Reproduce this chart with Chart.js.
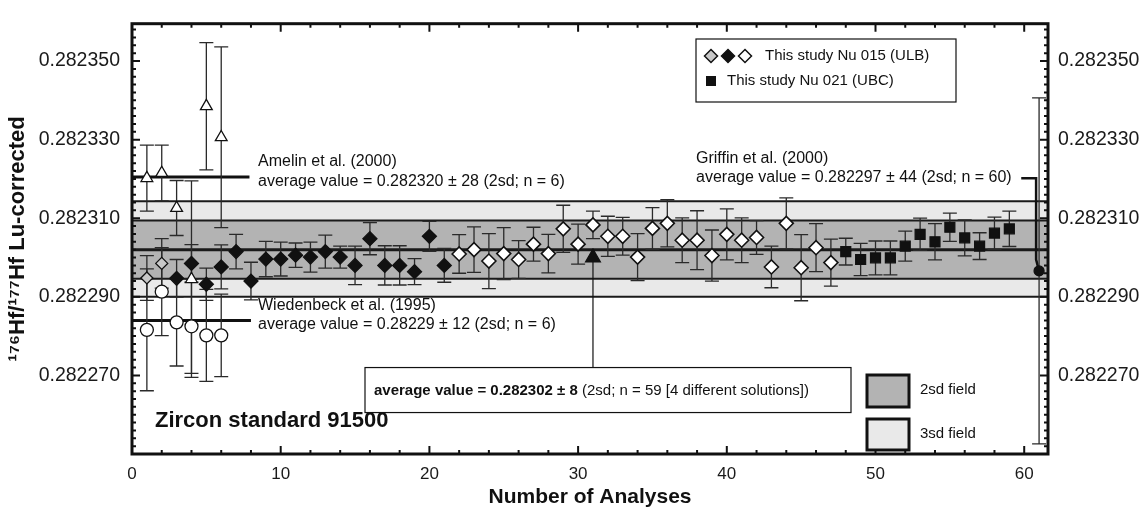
<!DOCTYPE html>
<html>
<head>
<meta charset="utf-8">
<script src="https://cdn.jsdelivr.net/npm/chart.js@4.4.1/dist/chart.umd.min.js"></script>
<style>
  html, body { margin: 0; padding: 0; background: #fff; }
</style>
</head>
<body>
<canvas id="hfChart" width="1148" height="510"></canvas>
<script>
// ---- data (176Hf/177Hf, errors in units of 1e-6, 2sd) ----
const xTicks = [0, 10, 20, 30, 40, 50, 60];
const yTicks = [0.28227, 0.28229, 0.28231, 0.28233, 0.28235];

// Amelin et al. (2000) - open triangles
const amelinX = [1, 2, 3, 4, 5, 6];
const amelinY = [0.2823202, 0.2823215, 0.2823126, 0.2822945, 0.2823385, 0.2823306];
const amelinErr = [8.4, 7.1, 7.0, 25.0, 16.2, 23.0];

// Wiedenbeck et al. (1995) - open circles
const wiedX = [1, 2, 3, 4, 5, 6];
const wiedY = [0.2822816, 0.2822913, 0.2822835, 0.2822825, 0.2822802, 0.2822802];
const wiedErr = [15.5, 11.2, 11.1, 12.0, 11.7, 10.5];

// This study Nu 015 (ULB) - grey, black and white diamonds
const greyX = [1, 2];
const greyY = [0.2822948, 0.2822985];
const greyErr = [5.7, 6.3];

const blackX = [3, 4, 5, 6, 7, 8, 9, 10, 11, 12, 13, 14, 15, 16, 17, 18, 19, 20, 21];
const blackY = [0.2822947, 0.2822985, 0.2822932, 0.2822976, 0.2823015, 0.2822940, 0.2822996,
  0.2822996, 0.2823006, 0.2823001, 0.2823015, 0.2823001, 0.2822980, 0.2823048, 0.2822980,
  0.2822980, 0.2822964, 0.2823054, 0.2822980];
const blackErr = [4.8, 4.8, 4.1, 5.6, 4.4, 4.8, 4.5, 4.3, 3.1, 3.8, 4.2, 2.8, 4.9, 4.1, 5.0,
  5.0, 3.3, 3.8, 4.3];

const whiteX = [22, 23, 24, 25, 26, 27, 28, 29, 30, 31, 32, 33, 34, 35, 36, 37, 38, 39, 40,
  41, 42, 43, 44, 45, 46, 47];
const whiteY = [0.2823009, 0.2823020, 0.2822991, 0.2823010, 0.2822995, 0.2823034, 0.2823010,
  0.2823073, 0.2823034, 0.2823083, 0.2823054, 0.2823054, 0.2823001, 0.2823074, 0.2823087,
  0.2823044, 0.2823044, 0.2823005, 0.2823059, 0.2823044, 0.2823051, 0.2822976, 0.2823087,
  0.2822974, 0.2823025, 0.2822987];
const whiteErr = [4.9, 5.8, 7.0, 6.6, 4.8, 4.3, 4.9, 6.0, 5.1, 3.5, 5.1, 4.8, 6.0, 5.3, 6.0,
  5.7, 7.5, 6.5, 6.5, 5.7, 4.3, 5.3, 6.5, 8.4, 6.1, 6.0];

// This study Nu 021 (UBC) - black squares
const squareX = [48, 49, 50, 51, 52, 53, 54, 55, 56, 57, 58, 59];
const squareY = [0.2823015, 0.2822995, 0.2822999, 0.2822999, 0.2823029, 0.2823059, 0.2823040,
  0.2823077, 0.2823050, 0.2823029, 0.2823062, 0.2823073];
const squareErr = [3.4, 4.1, 4.3, 4.3, 3.8, 4.1, 4.6, 3.6, 4.6, 3.4, 4.1, 4.5];

// Griffin et al. (2000) average
const griffinX = [61];
const griffinY = [0.2822966];
const griffinErr = [44];

// averages and fields
const meanValue = 0.282302;
const band2sd = [0.2822946, 0.2823094];
const band3sd = [0.2822900, 0.2823143];
const amelinLineX = [0, 7.9];
const amelinValue = 0.2823205;
const wiedLineX = [0, 8.0];
const wiedValue = 0.282284;
const bracketX = [59.8, 60.8, 60.8, 61];
const bracketY = [0.2823202, 0.2823202, 0.2822995, 0.2822966];
const pointerX = [31, 31];
const pointerY = [0.2823, 0.282272];

const yMin = 0.28225, yMax = 0.2823595, xMax = 61.6;
const FONT = '"Liberation Sans", Arial, Helvetica, sans-serif';
Chart.defaults.font.family = FONT;
Chart.defaults.color = '#111';

function pts(xs, ys) { return xs.map((v, i) => ({ x: v, y: ys[i] })); }
function hline(xs, v) { return xs.map(x => ({ x: x, y: v })); }

const errorSeries = [
  [amelinX, amelinY, amelinErr], [wiedX, wiedY, wiedErr], [greyX, greyY, greyErr],
  [blackX, blackY, blackErr], [whiteX, whiteY, whiteErr], [squareX, squareY, squareErr],
  [griffinX, griffinY, griffinErr]
];

// error bars, drawn after the field/lines but under the symbols
const errorBars = {
  id: 'errorBars',
  afterDatasetDraw(chart, args) {
    if (chart.data.datasets[args.index].label !== 'pointer') return;
    const { ctx, scales: { x, y } } = chart;
    ctx.save();
    ctx.strokeStyle = '#2a2a2a';
    ctx.lineWidth = 1.3;
    errorSeries.forEach(([xs, ys, es]) => {
      xs.forEach((xv, i) => {
        const px = x.getPixelForValue(xv);
        const top = y.getPixelForValue(ys[i] + es[i] * 1e-6);
        const bot = y.getPixelForValue(ys[i] - es[i] * 1e-6);
        ctx.beginPath();
        ctx.moveTo(px, top); ctx.lineTo(px, bot);
        ctx.moveTo(px - 7, top); ctx.lineTo(px + 7, top);
        ctx.moveTo(px - 7, bot); ctx.lineTo(px + 7, bot);
        ctx.stroke();
      });
    });
    ctx.restore();
  }
};

// frame with inward ticks
const frame = {
  id: 'frame',
  afterDatasetsDraw(chart) {
    const { ctx, chartArea: a, scales: { x, y } } = chart;
    ctx.save();
    ctx.strokeStyle = '#111';
    ctx.lineWidth = 2;
    ctx.beginPath();
    for (let v = 0; v <= 61; v += 2) {
      const px = x.getPixelForValue(v);
      const len = v % 10 === 0 ? 8 : 4;
      ctx.moveTo(px, a.bottom); ctx.lineTo(px, a.bottom - len);
      ctx.moveTo(px, a.top); ctx.lineTo(px, a.top + len);
    }
    for (let k = 0; yMin + k * 2e-6 <= yMax; k++) {
      const py = y.getPixelForValue(yMin + k * 2e-6);
      const len = k % 10 === 0 ? 8 : 4;
      ctx.moveTo(a.left, py); ctx.lineTo(a.left + len, py);
      ctx.moveTo(a.right, py); ctx.lineTo(a.right - len, py);
    }
    ctx.stroke();
    ctx.lineWidth = 3;
    ctx.strokeRect(a.left, a.top, a.right - a.left, a.bottom - a.top);
    ctx.restore();
  }
};

function diamond(ctx, cx, cy, r, fill) {
  ctx.beginPath();
  ctx.moveTo(cx, cy - r); ctx.lineTo(cx + r, cy); ctx.lineTo(cx, cy + r); ctx.lineTo(cx - r, cy);
  ctx.closePath();
  ctx.fillStyle = fill; ctx.fill();
  ctx.lineWidth = 1.5; ctx.strokeStyle = '#111'; ctx.stroke();
}

// texts, legend and field boxes
const notes = {
  id: 'notes',
  afterDraw(chart) {
    const { ctx, scales: { x, y } } = chart;
    ctx.save();
    ctx.textBaseline = 'middle';
    ctx.fillStyle = '#111';
    ctx.font = '16px ' + FONT;
    ctx.fillText('Amelin et al. (2000)', 258, 162);
    ctx.fillText('average value = 0.282320 \u00b1 28 (2sd; n = 6)', 258, 182);
    ctx.fillText('Wiedenbeck et al. (1995)', 258, 306);
    ctx.fillText('average value = 0.28229 \u00b1 12 (2sd; n = 6)', 258, 325);
    ctx.fillText('Griffin et al. (2000)', 696, 159);
    ctx.fillText('average value = 0.282297 \u00b1 44 (2sd; n = 60)', 696, 178);

    ctx.font = 'bold 22px ' + FONT;
    ctx.fillText('Zircon standard 91500', 155, 421);

    // symbol legend
    ctx.fillStyle = '#fff';
    ctx.fillRect(696, 39, 260, 63);
    ctx.lineWidth = 1.2; ctx.strokeStyle = '#111';
    ctx.strokeRect(696, 39, 260, 63);
    diamond(ctx, 711, 56, 6.5, '#c8c8c8');
    diamond(ctx, 728, 56, 6.5, '#111');
    diamond(ctx, 745, 56, 6.5, '#fff');
    ctx.fillStyle = '#111';
    ctx.fillRect(706, 76, 10, 10);
    ctx.font = '15px ' + FONT;
    ctx.fillText('This study Nu 015 (ULB)', 765, 56);
    ctx.fillText('This study Nu 021 (UBC)', 727, 81);

    // average value box
    const boxTop = y.getPixelForValue(pointerY[1]);
    ctx.fillStyle = '#fff';
    ctx.fillRect(365, boxTop, 486, 45);
    ctx.lineWidth = 1.2;
    ctx.strokeRect(365, boxTop, 486, 45);
    ctx.fillStyle = '#111';
    const bold = 'average value = 0.282302 \u00b1 8';
    ctx.font = 'bold 15px ' + FONT;
    ctx.fillText(bold, 374, boxTop + 23);
    const w = ctx.measureText(bold).width;
    ctx.font = '15px ' + FONT;
    ctx.fillText(' (2sd; n = 59 [4 different solutions])', 374 + w, boxTop + 23);

    // field legend
    ctx.lineWidth = 3;
    ctx.fillStyle = '#b3b3b3';
    ctx.fillRect(867, 375, 42, 32);
    ctx.strokeRect(867, 375, 42, 32);
    ctx.fillStyle = '#e9e9e9';
    ctx.fillRect(867, 419, 42, 31);
    ctx.strokeRect(867, 419, 42, 31);
    ctx.fillStyle = '#111';
    ctx.fillText('2sd field', 920, 390);
    ctx.fillText('3sd field', 920, 434);
    ctx.restore();
  }
};

function lineSet(label, data, order, extra) {
  return Object.assign({
    type: 'line', label: label, data: data, order: order,
    borderColor: '#1a1a1a', borderWidth: 2, pointRadius: 0, fill: false, tension: 0
  }, extra || {});
}

function pointSet(label, xs, ys, order, style) {
  return Object.assign({
    type: 'scatter', label: label, data: pts(xs, ys), order: order,
    pointBorderColor: '#111', pointBorderWidth: 1.3
  }, style);
}

const datasets = [
  lineSet('3sd upper', hline([0, xMax], band3sd[1]), 20,
    { fill: { value: band3sd[0] }, backgroundColor: '#e9e9e9' }),
  lineSet('3sd lower', hline([0, xMax], band3sd[0]), 19),
  lineSet('2sd upper', hline([0, xMax], band2sd[1]), 18,
    { fill: { value: band2sd[0] }, backgroundColor: '#b3b3b3' }),
  lineSet('2sd lower', hline([0, xMax], band2sd[0]), 17),
  lineSet('mean', hline([0, xMax], meanValue), 16, { borderWidth: 3 }),
  lineSet('Amelin', hline(amelinLineX, amelinValue), 15, { borderWidth: 3, borderColor: '#111' }),
  lineSet('Wiedenbeck', hline(wiedLineX, wiedValue), 14, { borderWidth: 3, borderColor: '#111' }),
  lineSet('Griffin bracket', pts(bracketX, bracketY), 13, { borderWidth: 2.5, borderColor: '#111' }),
  lineSet('pointer', pts(pointerX, pointerY), 12, { borderWidth: 1.2, borderColor: '#111' }),
  pointSet('Amelin', amelinX, amelinY, 8,
    { pointStyle: 'triangle', pointRadius: 6.8, pointBackgroundColor: '#fff' }),
  pointSet('Wiedenbeck', wiedX, wiedY, 7,
    { pointStyle: 'circle', pointRadius: 6.5, pointBackgroundColor: '#fff' }),
  pointSet('ULB grey', greyX, greyY, 6,
    { pointStyle: 'rectRot', pointRadius: 6, pointBackgroundColor: '#c8c8c8' }),
  pointSet('ULB black', blackX, blackY, 5,
    { pointStyle: 'rectRot', pointRadius: 7, pointBackgroundColor: '#111' }),
  pointSet('ULB white', whiteX, whiteY, 4,
    { pointStyle: 'rectRot', pointRadius: 7, pointBackgroundColor: '#fff', pointBorderWidth: 1.6 }),
  pointSet('UBC', squareX, squareY, 3,
    { pointStyle: 'rect', pointRadius: 7, pointBackgroundColor: '#111' }),
  pointSet('Griffin', griffinX, griffinY, 2,
    { pointStyle: 'circle', pointRadius: 5, pointBackgroundColor: '#111' }),
  pointSet('average', [pointerX[0]], [pointerY[0]], 1,
    { pointStyle: 'triangle', pointRadius: 8.5, pointBackgroundColor: '#111' })
];

const yTickOpts = {
  font: { size: 19.5 }, color: '#1a1a1a',
  callback: v => v.toFixed(6)
};

new Chart(document.getElementById('hfChart'), {
  type: 'scatter',
  data: { datasets: datasets },
  plugins: [errorBars, frame, notes],
  options: {
    responsive: false,
    animation: false,
    devicePixelRatio: 1,
    layout: { padding: { top: 10, left: 0, right: 0, bottom: 0 } },
    plugins: { legend: { display: false }, tooltip: { enabled: false } },
    elements: { point: { hoverRadius: 0 } },
    scales: {
      x: {
        type: 'linear', min: 0, max: xMax,
        afterBuildTicks: s => { s.ticks = xTicks.map(v => ({ value: v })); },
        afterFit: s => { s.height = 56; },
        grid: { display: false, drawTicks: false },
        border: { display: false },
        ticks: { font: { size: 17 }, color: '#1a1a1a', padding: 10 },
        title: { display: true, text: 'Number of Analyses', font: { size: 21, weight: 'bold' },
          color: '#111', padding: { top: 0, bottom: 0 } }
      },
      y: {
        type: 'linear', position: 'left', min: yMin, max: yMax,
        afterBuildTicks: s => { s.ticks = yTicks.map(v => ({ value: v })); },
        afterFit: s => { s.width = 132; },
        grid: { display: false, drawTicks: false },
        border: { display: false },
        ticks: Object.assign({ padding: 12 }, yTickOpts),
        title: { display: true, text: '\u00b9\u2077\u2076Hf/\u00b9\u2077\u2077Hf Lu-corrected',
          font: { size: 22, weight: 'bold' }, color: '#111', padding: { top: 5, bottom: 0 } }
      },
      y2: {
        type: 'linear', position: 'right', min: yMin, max: yMax,
        afterBuildTicks: s => { s.ticks = yTicks.map(v => ({ value: v })); },
        afterFit: s => { s.width = 100; },
        grid: { display: false, drawTicks: false },
        border: { display: false },
        ticks: Object.assign({ padding: 10 }, yTickOpts)
      }
    }
  }
});
</script>
</body>
</html>
